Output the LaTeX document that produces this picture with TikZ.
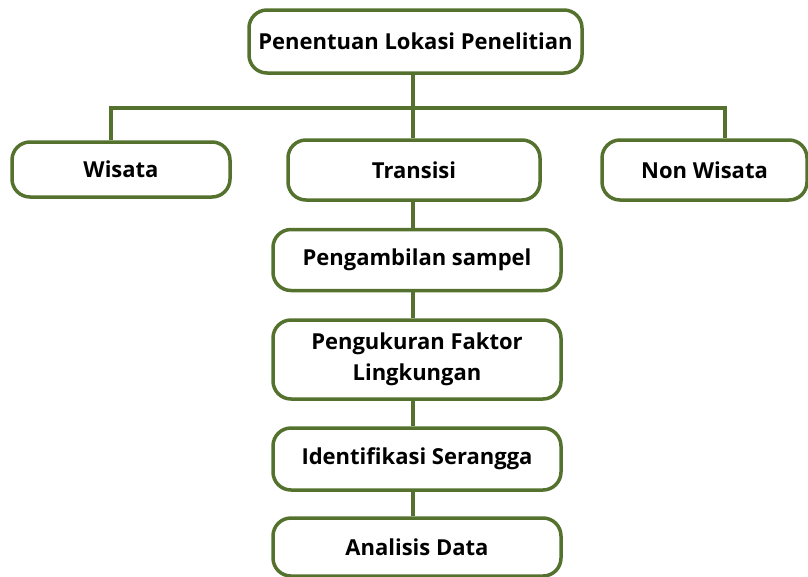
\documentclass[tikz,border=0pt]{standalone}
\usepackage{fontspec}
\setmainfont{Open Sans}
\definecolor{olivegr}{RGB}{84,114,46}
\begin{document}
\begin{tikzpicture}[x=1pt,y=-1pt,
  box/.style={draw=olivegr, line width=3.5pt, fill=white, rounded corners=18pt,
    inner sep=0pt, align=center, font=\bfseries\fontsize{22}{31}\selectfont, text=black},
  conn/.style={draw=olivegr, line width=4pt}]
\useasboundingbox (0,0) rectangle (808,576);
\coordinate (bar) at (413,108);
\node[box, minimum width=333pt, minimum height=63pt] (top) at (415.5,41.5) {Penentuan Lokasi Penelitian};
\node[box, minimum width=218pt, minimum height=55pt] (wis) at (121,169.5) {Wisata};
\node[box, minimum width=252pt, minimum height=60pt] (tra) at (414,170) {Transisi};
\node[box, minimum width=205pt, minimum height=60pt] (non) at (704.5,170) {Non Wisata};
\node[box, minimum width=288pt, minimum height=61pt] (peng) at (417,260) {Pengambilan sampel};
\node[box, minimum width=288pt, minimum height=79pt] (ukur) at (417,359.5) {Pengukuran Faktor\\Lingkungan};
\node[box, minimum width=288pt, minimum height=62pt] (iden) at (417,459) {Identifikasi Serangga};
\node[box, minimum width=288pt, minimum height=58pt] (anal) at (417,547) {Analisis Data};
\draw[conn] (top.south -| bar) -- (tra.north -| bar);
\draw[conn] ([xshift=-10pt]wis.north) |- (bar) -| ([xshift=20.5pt]non.north);
\draw[conn] (tra.south -| bar) -- (peng.north -| bar);
\draw[conn] (peng.south -| bar) -- (ukur.north -| bar);
\draw[conn] (ukur.south -| bar) -- (iden.north -| bar);
\draw[conn] (iden.south -| bar) -- (anal.north -| bar);
\end{tikzpicture}
\end{document}
